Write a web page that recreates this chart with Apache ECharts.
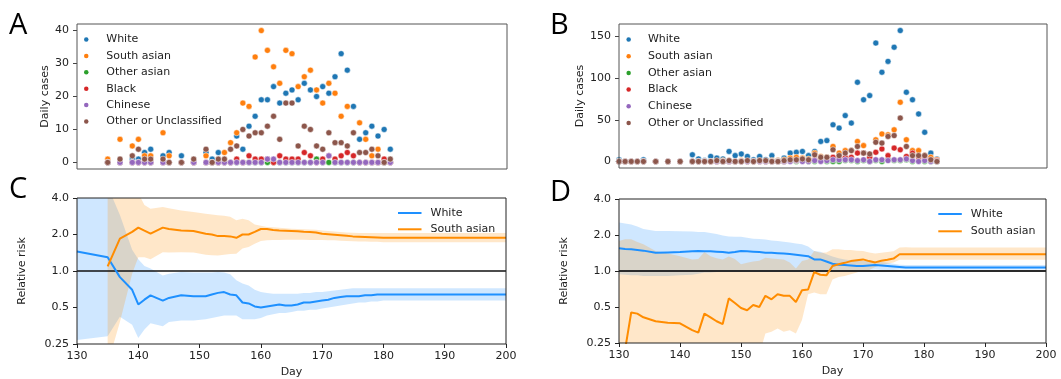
<!DOCTYPE html>
<html>
<head>
<meta charset="utf-8">
<script src="https://cdn.jsdelivr.net/npm/echarts@6/dist/echarts.min.js"></script>
<style>
  html, body { margin: 0; padding: 0; background: #fff; }
  #chart { width: 1061px; height: 379px; }
</style>
</head>
<body>
<div id="chart"></div>
<script>
// ---- groups ----
const groups = ['White', 'South asian', 'Other asian', 'Black', 'Chinese', 'Other or Unclassified'];
const groupColors = ['#1f77b4', '#ff7f0e', '#2ca02c', '#d62728', '#9467bd', '#8c564b'];

// ---- A: daily cases, first region ----
const daysA = [135,137,139,140,141,142,144,145,147,149,151,152,153,154,155,156,157,158,159,160,161,162,163,164,165,166,167,168,169,170,171,172,173,174,175,176,177,178,179,180,181];
const aWhite      = [0,0,1,1,3,4,2,3,2,0, 3,1,3,0,0,8,4,11,14,19,19,23,18,21,22,19,24,22,20,23,21,26,33,28,17,7,9,11,8,10,4];
const aSouthAsian = [1,7,5,7,2,2,9,2,0,0, 2,0,0,3,6,9,18,17,32,40,34,29,24,34,33,23,26,28,22,18,24,21,14,17,0,12,7,2,4,0,0];
const aOtherAsian = [0,0,0,0,0,0,0,0,0,0, 0,0,0,0,0,0,0,0,0,0,0,0,0,0,0,0,0,0,1,0,0,0,0,0,0,0,0,0,0,0,0];
const aBlack      = [0,0,0,0,0,0,0,0,0,0, 0,0,0,0,0,1,0,2,1,1,1,0,2,1,1,1,3,2,0,1,2,1,2,3,2,0,0,0,0,1,0];
const aChinese    = [0,0,0,0,0,0,0,0,0,0, 0,0,0,0,0,0,0,0,0,0,1,1,0,0,0,0,0,0,0,0,2,0,0,0,0,0,0,0,0,0,0];
const aOther      = [0,1,2,4,1,1,1,0,0,1, 4,0,1,1,4,5,10,8,9,9,11,14,7,18,18,5,11,10,5,4,9,6,6,5,9,3,3,4,2,0,1];

// ---- B: daily cases, second region ----
const daysB = [130,131,132,133,134,136,138,140,142,143,144,145,146,147,148,149,150,151,152,153,154,155,156,157,158,159,160,161,162,163,164,165,166,167,168,169,170,171,172,173,174,175,176,177,178,179,180,181,182];
const bWhite      = [2,0,0,0,2,0,0,0, 8,3,1,6,4,3,12,7,9,6,2,6,2,7,1,4,10,11,12,7,12,24,25,44,40,55,46,95,74,79,142,107,120,137,157,83,74,57,35,10,3];
const bSouthAsian = [0,0,0,0,0,0,0,0, 0,0,0,0,0,1,0,0,1,0,0,1,0,1,1,2,4,5,4,3,10,6,5,18,10,13,13,24,19,8,26,33,32,38,71,26,13,13,7,5,2];
const bOtherAsian = [0,0,0,0,0,0,0,0, 0,0,0,0,0,0,0,0,0,0,0,0,0,0,0,0,1,0,1,0,0,1,0,0,0,1,1,0,1,0,1,0,2,1,1,2,0,1,0,0,0];
const bBlack      = [0,0,0,0,0,0,0,0, 0,0,0,0,0,0,0,0,0,0,0,0,0,0,0,0,1,1,1,1,2,1,2,5,4,5,5,10,10,5,11,15,7,16,14,6,10,5,4,2,1];
const bChinese    = [0,0,0,0,0,0,0,0, 0,0,0,0,0,0,0,0,0,0,0,0,0,0,0,0,0,1,0,0,1,0,1,2,2,2,2,1,2,0,2,2,1,2,2,3,1,0,1,0,0];
const bOther      = [0,0,0,0,0,0,0,0, 0,0,0,0,1,0,1,0,0,1,0,1,1,0,0,1,2,2,3,2,8,5,5,14,7,10,13,18,10,9,23,22,30,31,52,18,7,7,7,2,0];

// ---- C: relative risk, first region ----
const daysCW = [130,135,137,139,140,141,142,144,145,147,149,151,152,153,154,155,156,157,158,159,160,161,162,163,164,165,166,167,168,169,170,171,172,173,174,175,176,177,178,179,180,181,200];
const cWhite   = [1.45,1.30,0.89,0.70,0.53,0.58,0.63,0.57,0.60,0.63,0.62,0.62,0.64,0.66,0.67,0.64,0.63,0.55,0.54,0.51,0.50,0.51,0.52,0.53,0.52,0.52,0.53,0.55,0.55,0.56,0.57,0.58,0.60,0.61,0.62,0.62,0.62,0.63,0.63,0.64,0.64,0.64,0.64];
const cWhiteHi = [8,5,2.9,1.5,1.25,1.1,1.05,0.92,0.95,0.98,0.97,0.97,0.97,0.98,0.97,0.94,0.84,0.79,0.76,0.70,0.67,0.66,0.65,0.65,0.65,0.65,0.65,0.66,0.66,0.67,0.67,0.68,0.69,0.70,0.71,0.72,0.72,0.72,0.72,0.72,0.72,0.72,0.72];
const cWhiteLo = [0.27,0.29,0.42,0.36,0.28,0.33,0.37,0.35,0.38,0.39,0.39,0.40,0.41,0.42,0.43,0.43,0.43,0.40,0.40,0.40,0.41,0.43,0.44,0.45,0.45,0.46,0.47,0.47,0.48,0.48,0.49,0.50,0.51,0.52,0.53,0.54,0.55,0.55,0.56,0.56,0.57,0.57,0.57];

const daysCS = [135,137,139,140,141,142,144,145,147,149,151,152,153,154,155,156,157,158,159,160,161,162,163,164,165,166,167,168,169,170,171,172,173,174,175,176,177,178,179,180,181,200];
const cSouthAsian   = [1.09,1.85,2.10,2.28,2.15,2.03,2.28,2.22,2.16,2.14,2.03,2.00,1.94,1.94,1.93,1.88,2.00,2.00,2.10,2.22,2.22,2.18,2.16,2.15,2.14,2.13,2.11,2.10,2.08,2.03,2.01,1.99,1.97,1.95,1.93,1.92,1.91,1.90,1.89,1.88,1.88,1.88];
const cSouthAsianHi = [8,8,6,4.4,3.5,3.26,3.37,3.30,3.16,3.07,2.97,2.93,2.88,2.85,2.80,2.62,2.70,2.62,2.42,2.36,2.31,2.29,2.27,2.25,2.23,2.22,2.21,2.20,2.19,2.16,2.14,2.12,2.10,2.08,2.07,2.06,2.06,2.06,2.06,2.06,2.06,2.06];
const cSouthAsianLo = [0.17,0.38,0.95,1.30,1.30,1.25,1.43,1.42,1.43,1.42,1.36,1.35,1.34,1.36,1.38,1.39,1.53,1.58,1.68,1.77,1.79,1.80,1.80,1.81,1.81,1.81,1.81,1.80,1.80,1.80,1.79,1.79,1.78,1.77,1.76,1.75,1.75,1.74,1.74,1.73,1.73,1.73];

// ---- D: relative risk, second region ----
const daysD = [130,131,132,133,134,136,138,140,142,143,144,145,146,147,148,149,150,151,152,153,154,155,156,157,158,159,160,161,162,163,164,165,166,167,168,169,170,171,172,173,174,175,176,177,178,179,180,181,182,200];
const dWhite   = [1.55,1.53,1.52,1.50,1.48,1.42,1.43,1.44, 1.46,1.47,1.46,1.46,1.45,1.44,1.42,1.44,1.47,1.46,1.45,1.44,1.42,1.42,1.41,1.40,1.39,1.37,1.35,1.33,1.25,1.25,1.20,1.15,1.13,1.12,1.11,1.10,1.10,1.11,1.12,1.11,1.10,1.09,1.08,1.07,1.07,1.07,1.07,1.07,1.07, 1.07];
const dWhiteHi = [2.54,2.50,2.45,2.35,2.25,2.16,2.16,2.15, 2.14,2.12,2.12,2.08,2.04,1.98,1.94,1.93,1.93,1.90,1.86,1.85,1.83,1.80,1.78,1.76,1.73,1.70,1.67,1.60,1.47,1.45,1.38,1.32,1.28,1.25,1.23,1.22,1.21,1.21,1.20,1.19,1.17,1.15,1.13,1.12,1.12,1.12,1.12,1.12,1.12, 1.12];
const dWhiteLo = [0.94,0.93,0.92,0.92,0.91,0.91,0.91,0.92, 0.93,0.95,0.97,0.97,0.98,0.99,1.00,1.00,1.01,1.01,1.01,1.01,1.01,1.01,1.01,1.01,1.01,1.01,1.01,1.01,1.00,1.00,1.01,1.01,1.01,1.02,1.02,1.02,1.02,1.02,1.03,1.02,1.02,1.02,1.03,1.03,1.03,1.03,1.03,1.03,1.03, 1.03];
const dSouthAsian   = [0.10,0.22,0.45,0.44,0.41,0.38,0.37,0.365, 0.32,0.305,0.44,0.41,0.38,0.36,0.59,0.54,0.49,0.47,0.52,0.50,0.62,0.58,0.64,0.62,0.62,0.55,0.69,0.70,0.98,0.93,0.92,1.10,1.14,1.17,1.21,1.23,1.25,1.21,1.18,1.22,1.24,1.27,1.38,1.38,1.38,1.38,1.38,1.38,1.38, 1.38];
const dSouthAsianHi = [1.78,1.84,1.84,1.75,1.67,1.47,1.40,1.33, 1.25,1.26,1.44,1.33,1.28,1.25,1.32,1.26,1.14,1.17,1.20,1.22,1.29,1.27,1.26,1.25,1.18,1.05,1.21,1.25,1.47,1.42,1.43,1.52,1.52,1.50,1.50,1.48,1.47,1.43,1.40,1.42,1.44,1.46,1.57,1.58,1.57,1.57,1.57,1.57,1.57, 1.57];
const dSouthAsianLo = [0.05,0.05,0.05,0.05,0.05,0.05,0.05,0.05, 0.05,0.05,0.06,0.06,0.06,0.06,0.07,0.07,0.08,0.10,0.15,0.20,0.30,0.31,0.33,0.31,0.32,0.30,0.39,0.64,0.66,0.64,0.64,0.85,0.89,0.91,0.94,0.97,1.02,1.02,1.08,1.12,1.15,1.18,1.24,1.24,1.24,1.24,1.24,1.24,1.24, 1.24];

const refLevel = [[130, 1], [200, 1]];

// ---- styling ----
const FONT = 'DejaVu Sans';
const INK = '#222';
const LINE_BLUE = '#1e90ff';
const LINE_ORANGE = '#ff8c00';
const BAND_BLUE = 'rgba(30,144,255,0.21)';
const BAND_ORANGE = 'rgba(255,140,0,0.21)';

const pairs = (days, vals) => days.map((d, i) => [d, vals[i]]);

function scatterSeries(axis, days, values, idx) {
  return {
    type: 'scatter', name: groups[idx], xAxisIndex: axis, yAxisIndex: axis,
    data: pairs(days, values), symbol: 'circle', symbolSize: 6, z: 2,
    itemStyle: { color: groupColors[idx], borderColor: '#fff', borderWidth: 0.5, opacity: 1 },
    silent: true
  };
}

// confidence band as one polygon: upper edge forward, lower edge back
function bandSeries(axis, name, days, lo, hi, fill) {
  return {
    type: 'custom', name: name, xAxisIndex: axis, yAxisIndex: axis, clip: true, z: 1, silent: true,
    data: days.map((d, i) => [d, lo[i], hi[i]]),
    encode: { x: 0, y: [1, 2] },
    renderItem(params, api) {
      if (params.dataIndex !== 0) return null;
      const upper = days.map((d, i) => api.coord([d, hi[i]]));
      const lower = days.map((d, i) => api.coord([d, lo[i]])).reverse();
      return { type: 'polygon', shape: { points: upper.concat(lower) }, style: { fill: fill } };
    }
  };
}

function lineSeries(axis, name, days, vals, color) {
  return {
    type: 'line', name: name, xAxisIndex: axis, yAxisIndex: axis, data: pairs(days, vals),
    symbol: 'none', showSymbol: false, z: 4, clip: true, silent: true,
    lineStyle: { width: 2, color: color }, itemStyle: { color: color }
  };
}

function refSeries(axis, color, width) {
  return {
    type: 'line', name: 'reference', xAxisIndex: axis, yAxisIndex: axis, data: refLevel,
    symbol: 'none', showSymbol: false, z: 3, silent: true,
    lineStyle: { width: width, color: color }
  };
}

const gridBase = { show: true, borderWidth: 1, z: 10, containLabel: false, outerBoundsMode: 'none', backgroundColor: 'transparent' };

const hiddenX = (gi) => ({
  gridIndex: gi, type: 'value', min: 130, max: 200, interval: 10,
  axisLine: { show: false }, axisTick: { show: false }, axisLabel: { show: false }, splitLine: { show: false }
});
const dayX = (gi) => ({
  gridIndex: gi, type: 'value', min: 130, max: 200, interval: 10,
  axisLine: { show: false },
  axisTick: { show: true, length: 4, lineStyle: { color: '#222', width: 1 } },
  axisLabel: { fontSize: 11, fontFamily: FONT, color: INK, margin: 7 },
  splitLine: { show: false },
  name: 'Day', nameLocation: 'middle', nameGap: 23,
  nameTextStyle: { fontSize: 11, fontFamily: FONT, color: INK }
});
const countY = (gi, min, max, ticks) => ({
  gridIndex: gi, type: 'value', min: min, max: max,
  axisLine: { show: false },
  axisTick: { show: true, length: 4, customValues: ticks, lineStyle: { color: '#444', width: 1 } },
  axisLabel: { customValues: ticks, fontSize: 11, fontFamily: FONT, color: INK, margin: 8 },
  splitLine: { show: false },
  name: 'Daily cases', nameLocation: 'middle', nameGap: 26,
  nameTextStyle: { fontSize: 11, fontFamily: FONT, color: INK }
});
const riskY = (gi) => ({
  gridIndex: gi, type: 'log', logBase: 2, min: 0.25, max: 4,
  axisLine: { show: false },
  axisTick: { show: true, length: 4, lineStyle: { color: '#222', width: 1 } },
  axisLabel: {
    fontSize: 11, fontFamily: FONT, color: INK, margin: 8,
    formatter: (v) => (Math.abs(v - 0.25) < 1e-6 ? '0.25' : Number(v).toFixed(1))
  },
  splitLine: { show: false },
  name: 'Relative risk', nameLocation: 'middle', nameGap: 49,
  nameTextStyle: { fontSize: 11, fontFamily: FONT, color: INK }
});

const legendText = { fontSize: 11, fontFamily: FONT, color: INK, lineHeight: 14 };
const dotLegend = (left, top, gap, width) => ({
  orient: 'vertical', left: left, top: top, padding: 0, itemGap: gap,
  itemWidth: width, itemHeight: 4.5, icon: 'circle', selectedMode: false,
  textStyle: legendText,
  data: groups.map((g, i) => ({ name: g, icon: 'circle', itemStyle: { color: groupColors[i], borderWidth: 0 } }))
});
const lineLegend = (left, top, gap) => ({
  orient: 'vertical', left: left, top: top, padding: 0, itemGap: gap,
  itemWidth: 23.5, itemHeight: 2, selectedMode: false,
  textStyle: Object.assign({ padding: [0, 0, 0, 4] }, legendText),
  data: [
    { name: 'White', icon: 'rect', itemStyle: { color: LINE_BLUE, borderWidth: 0 } },
    { name: 'South asian', icon: 'rect', itemStyle: { color: LINE_ORANGE, borderWidth: 0 } }
  ]
});

const letter = (t, x, y) => ({
  type: 'text', x: x, y: y, z: 100,
  style: { text: t, font: '29px "Open Sans"', fill: '#000', align: 'left', verticalAlign: 'middle' }
});

const option = {
  animation: false,
  backgroundColor: '#fff',
  textStyle: { fontFamily: FONT },
  grid: [
    Object.assign({ left: 77, top: 24, width: 430, height: 145, borderColor: '#555' }, gridBase),
    Object.assign({ left: 619, top: 24, width: 428, height: 144, borderColor: '#555' }, gridBase),
    Object.assign({ left: 77, top: 198, width: 429, height: 146, borderColor: '#222' }, gridBase),
    Object.assign({ left: 619, top: 199, width: 427, height: 144, borderColor: '#222' }, gridBase)
  ],
  xAxis: [hiddenX(0), hiddenX(1), dayX(2), dayX(3)],
  yAxis: [
    countY(0, -2, 42, [0, 10, 20, 30, 40]),
    countY(1, -7.85, 164.85, [0, 50, 100, 150]),
    riskY(2), riskY(3)
  ],
  legend: [
    dotLegend(84, 32.5, 2.4, 30),
    dotLegend(626.4, 32.5, 2.7, 28.6),
    lineLegend(398, 206, 2.3),
    lineLegend(938.3, 207, 3.3)
  ],
  graphic: [letter('A', 9, 26), letter('B', 550, 26), letter('C', 9, 190), letter('D', 550, 193)],
  series: [
    scatterSeries(0, daysA, aWhite, 0),
    scatterSeries(0, daysA, aSouthAsian, 1),
    scatterSeries(0, daysA, aOtherAsian, 2),
    scatterSeries(0, daysA, aBlack, 3),
    scatterSeries(0, daysA, aChinese, 4),
    scatterSeries(0, daysA, aOther, 5),
    scatterSeries(1, daysB, bWhite, 0),
    scatterSeries(1, daysB, bSouthAsian, 1),
    scatterSeries(1, daysB, bOtherAsian, 2),
    scatterSeries(1, daysB, bBlack, 3),
    scatterSeries(1, daysB, bChinese, 4),
    scatterSeries(1, daysB, bOther, 5),

    bandSeries(2, 'White band', daysCW, cWhiteLo, cWhiteHi, BAND_BLUE),
    bandSeries(2, 'South asian band', daysCS, cSouthAsianLo, cSouthAsianHi, BAND_ORANGE),
    refSeries(2, '#111', 1.7),
    lineSeries(2, 'White', daysCW, cWhite, LINE_BLUE),
    lineSeries(2, 'South asian', daysCS, cSouthAsian, LINE_ORANGE),

    bandSeries(3, 'White band', daysD, dWhiteLo, dWhiteHi, BAND_BLUE),
    bandSeries(3, 'South asian band', daysD, dSouthAsianLo, dSouthAsianHi, BAND_ORANGE),
    refSeries(3, '#2a2a2a', 2),
    lineSeries(3, 'White', daysD, dWhite, LINE_BLUE),
    lineSeries(3, 'South asian', daysD, dSouthAsian, LINE_ORANGE)
  ]
};

const chart = echarts.init(document.getElementById('chart'), null, { renderer: 'canvas' });
chart.setOption(option);
</script>
</body>
</html>
